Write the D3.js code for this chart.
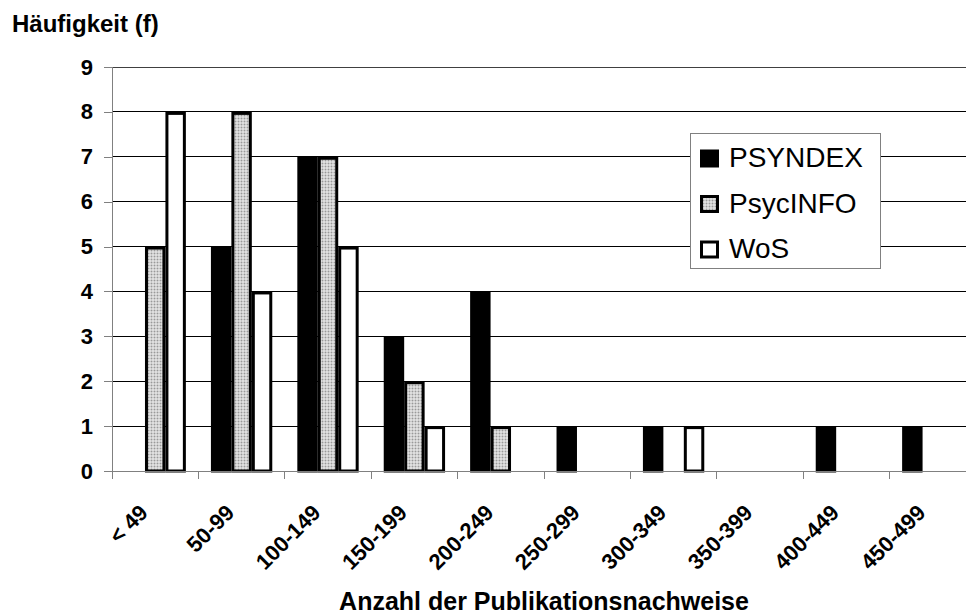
<!DOCTYPE html>
<html>
<head>
<meta charset="utf-8">
<script src="https://d3js.org/d3.v7.min.js"></script>
<style>
    body { margin: 0; background: #fff; }
    svg { display: block; font-family: "Liberation Sans", Arial, sans-serif; }
</style>
</head>
<body>
<div id="chart"></div>
<script>
// Kategorien (Anzahl der Publikationsnachweise)
const categories = ["< 49", "50-99", "100-149", "150-199", "200-249",
                    "250-299", "300-349", "350-399", "400-449", "450-499"];
const seriesNames = ["PSYNDEX", "PsycINFO", "WoS"];
const psyndex  = [0, 5, 7, 3, 4, 1, 1, 0, 1, 1];
const psycinfo = [5, 8, 7, 2, 1, 0, 0, 0, 0, 0];
const wos      = [8, 4, 5, 1, 0, 0, 1, 0, 0, 0];
const yTicks   = [0, 1, 2, 3, 4, 5, 6, 7, 8, 9];

const width = 966, height = 614;
const plotLeft = 112, plotRight = 976, plotTop = 67, plotBottom = 471;

const svg = d3.select("#chart").append("svg")
    .attr("width", width)
    .attr("height", height);

// Punktmuster für PsycINFO
const defs = svg.append("defs");
const pat = defs.append("pattern")
    .attr("id", "dots")
    .attr("patternUnits", "userSpaceOnUse")
    .attr("width", 3).attr("height", 3);
pat.append("rect").attr("width", 3).attr("height", 3).attr("fill", "#f6f6f6");
pat.append("rect").attr("x", 0.5).attr("y", 0.5).attr("width", 2).attr("height", 2).attr("fill", "#999");

const x0 = d3.scaleBand()
    .domain(categories)
    .range([plotLeft, plotRight])
    .paddingInner(0.29)
    .paddingOuter(0.145);
const x1 = d3.scaleBand()
    .domain(seriesNames)
    .range([0, x0.bandwidth()]);
const y = d3.scaleLinear().domain([0, 9]).range([plotBottom, plotTop]);

const step = x0.step();

// Gitterlinien
svg.append("g").selectAll("line")
    .data(yTicks.filter(d => d > 0))
    .join("line")
    .attr("x1", plotLeft).attr("x2", plotRight)
    .attr("y1", d => y(d)).attr("y2", d => y(d))
    .attr("stroke", d => d === 9 ? "#404040" : "#000").attr("stroke-width", 1)
    .attr("shape-rendering", "crispEdges");

// y-Achse
const yAxis = svg.append("g")
    .attr("transform", `translate(${plotLeft},0)`)
    .call(d3.axisLeft(y).tickValues(yTicks).tickSize(8).tickPadding(11).tickFormat(d3.format("d")));
yAxis.select(".domain").attr("stroke", "#808080").attr("shape-rendering", "crispEdges");
yAxis.selectAll(".tick line").attr("stroke", "#808080").attr("shape-rendering", "crispEdges");
yAxis.selectAll("text")
    .attr("font-family", "Liberation Sans, Arial, sans-serif")
    .attr("font-size", 22).attr("font-weight", "bold").attr("fill", "#000");

// Balken
const data = [
    { name: "PSYNDEX", values: psyndex },
    { name: "PsycINFO", values: psycinfo },
    { name: "WoS", values: wos }
];
const fills = { "PSYNDEX": "#000", "PsycINFO": "url(#dots)", "WoS": "#fff" };

data.forEach(s => {
    svg.append("g").selectAll("rect")
        .data(s.values.map((v, i) => ({ cat: categories[i], v })).filter(d => d.v > 0))
        .join("rect")
        .attr("x", d => x0(d.cat) + x1(s.name) + 1.5)
        .attr("y", d => y(d.v) + 1.5)
        .attr("width", x1.bandwidth() - 3)
        .attr("height", d => y(0) - y(d.v) - 1.5)
        .attr("fill", fills[s.name])
        .attr("stroke", "#000")
        .attr("stroke-width", 3);
});

// x-Achse
svg.append("line")
    .attr("x1", plotLeft - 8).attr("x2", plotRight)
    .attr("y1", plotBottom).attr("y2", plotBottom)
    .attr("stroke", "#808080")
    .attr("shape-rendering", "crispEdges");
svg.append("g").selectAll("line")
    .data(categories)
    .join("line")
    .attr("x1", d => x0(d) - step * 0.145).attr("x2", d => x0(d) - step * 0.145)
    .attr("y1", plotBottom).attr("y2", plotBottom + 8)
    .attr("stroke", "#808080")
    .attr("shape-rendering", "crispEdges");

svg.append("g").selectAll("text")
    .data(categories)
    .join("text")
    .attr("transform", d => `translate(${x0(d) + x0.bandwidth() / 2 - 6},${plotBottom + 43}) rotate(-45)`)
    .attr("text-anchor", "end")
    .attr("font-size", 22)
    .attr("font-weight", "bold")
    .text(d => d);

// Achsentitel
svg.append("text")
    .attr("x", 12).attr("y", 32)
    .attr("font-size", 24).attr("font-weight", "bold")
    .text("Häufigkeit (f)");

svg.append("text")
    .attr("x", 544).attr("y", 610)
    .attr("text-anchor", "middle")
    .attr("font-size", 25).attr("font-weight", "bold")
    .text("Anzahl der Publikationsnachweise");

// Legende
const legend = svg.append("g").attr("transform", "translate(690,133)");
legend.append("rect")
    .attr("width", 190).attr("height", 135)
    .attr("fill", "#fff")
    .attr("stroke", "#808080")
    .attr("shape-rendering", "crispEdges");
seriesNames.forEach((name, i) => {
    const base = 34 + i * 45.5;
    legend.append("rect")
        .attr("x", 11.5).attr("y", base - 16)
        .attr("width", 16).attr("height", 15)
        .attr("fill", fills[name])
        .attr("stroke", "#000")
        .attr("stroke-width", 3);
    legend.append("text")
        .attr("x", 39).attr("y", base)
        .attr("font-size", 28)
        .text(name);
});
</script>
</body>
</html>
